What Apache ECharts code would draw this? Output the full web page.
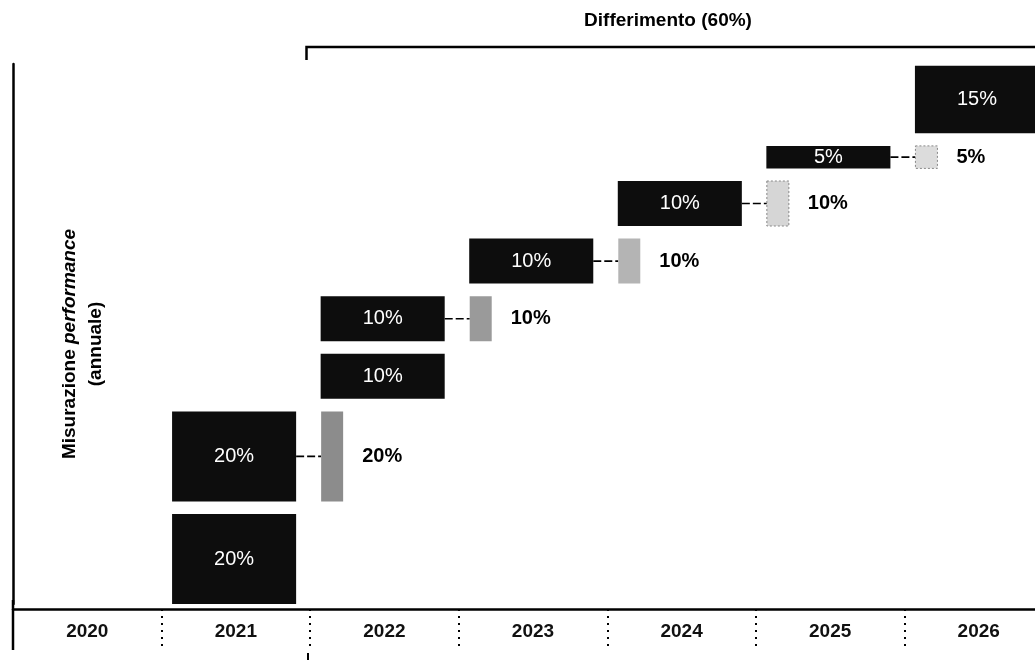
<!DOCTYPE html>
<html>
<head>
<meta charset="utf-8">
<script src="https://cdn.jsdelivr.net/npm/echarts@6/dist/echarts.min.js"></script>
<style>
  html, body { margin: 0; padding: 0; background: #fff; }
  #chart { width: 1035px; height: 660px; }
</style>
</head>
<body>
<div id="chart"></div>
<script>
// ---- data ----
const years = ['2020', '2021', '2022', '2023', '2024', '2025', '2026'];
const trancheYear = ['2021', '2021', '2022', '2022', '2023', '2024', '2025', '2026'];
const trancheShare = [20, 20, 10, 10, 10, 10, 5, 15];        // % of variable pay
const trancheRetention = [0, 1, 0, 1, 1, 1, 1, 0];           // 1 = retained one more year
const deferralLabel = 'Differimento (60%)';
const yAxisTitleMain = 'Misurazione ';
const yAxisTitleItalic = 'performance';
const yAxisTitleSub = '(annuale)';

// ---- styles ----
const FONT = "'Liberation Sans', Arial, Helvetica, sans-serif";
const retentionFill = ['#8c8c8c', '#8c8c8c', '#9a9a9a', '#9a9a9a', '#b4b4b4', '#d6d6d6', '#dcdcdc', '#dcdcdc'];
const GAP = 2.8; // vertical gap between stacked tranches (axis units)

// build stacked positions
let acc = 0;
const seriesData = trancheShare.map((v, i) => {
  const start = acc;
  const end = start + v;
  acc = end + GAP;
  return [years.indexOf(trancheYear[i]), start, end, v, trancheRetention[i], i];
});

function renderItem(params, api) {
  const ci = api.value(0), y0 = api.value(1), y1 = api.value(2), v = api.value(3);
  const ret = api.value(4), idx = api.value(5);
  const top = api.coord([ci, y1]);
  const bot = api.coord([ci, y0]);
  const bw = api.size([1, 0])[0];
  const colLeft = top[0] - bw / 2;
  const barX = colLeft + 10.5;
  const barW = bw * 0.835;
  const h = bot[1] - top[1];
  const midY = top[1] + h / 2;
  const children = [
    { type: 'rect', shape: { x: barX, y: top[1], width: barW, height: h },
      style: { fill: '#0d0d0d' } },
    { type: 'text', x: barX + barW / 2, y: midY,
      style: { text: v + '%', fill: '#fff', font: '20px ' + FONT, align: 'center', verticalAlign: 'middle' } }
  ];
  if (ret) {
    const gx = colLeft + bw + 11;
    const gw = 22;
    const light = idx >= 5;
    children.push(
      { type: 'line', shape: { x1: barX + barW, y1: midY, x2: gx, y2: midY },
        style: { stroke: '#000', lineWidth: 1.6, lineDash: [8, 3] } },
      { type: 'rect', shape: { x: gx, y: top[1], width: gw, height: h },
        style: { fill: retentionFill[idx], stroke: light ? '#888' : null, lineWidth: 1, lineDash: [2, 2] } },
      { type: 'text', x: colLeft + bw + 52, y: midY,
        style: { text: v + '%', fill: '#000', font: 'bold 20px ' + FONT, align: 'left', verticalAlign: 'middle' } }
    );
  }
  return { type: 'group', children };
}

const chart = echarts.init(document.getElementById('chart'), null, { renderer: 'canvas' });
chart.setOption({
  animation: false,
  backgroundColor: '#fff',
  grid: { left: 13, top: 64, width: 1040, height: 540, containLabel: false, outerBoundsMode: 'none' },
  xAxis: {
    type: 'category',
    data: years,
    position: 'bottom',
    offset: 5,
    boundaryGap: true,
    axisLine: { show: true, onZero: false, lineStyle: { color: '#000', width: 2.5 } },
    axisTick: { show: true, inside: false, length: 38, interval: 0, alignWithLabel: false,
      lineStyle: { color: '#000', width: 2, type: [2, 5] } },
    axisLabel: { show: true, margin: 13, color: '#111', fontSize: 19, fontWeight: 'bold', fontFamily: FONT, interval: 0 },
    splitLine: { show: false }
  },
  yAxis: {
    type: 'value',
    min: 0,
    max: 120,
    axisLine: { show: true, lineStyle: { color: '#000', width: 2.5 } },
    axisTick: { show: false },
    axisLabel: { show: false },
    splitLine: { show: false }
  },
  series: [{
    type: 'custom',
    renderItem: renderItem,
    clip: false,
    encode: { x: 0, y: [1, 2] },
    data: seriesData
  }],
  graphic: [
    // left axis extension below baseline
    { type: 'line', shape: { x1: 13, y1: 600, x2: 13, y2: 650 }, style: { stroke: '#000', lineWidth: 2.5 } },
    // deferral bracket
    { type: 'polyline', shape: { points: [[306.5, 60], [306.5, 47], [1035, 47]] },
      style: { stroke: '#000', lineWidth: 2.5, fill: null } },
    { type: 'line', shape: { x1: 308, y1: 653, x2: 308, y2: 660 }, style: { stroke: '#000', lineWidth: 2 } },
    { type: 'text', x: 668, y: 21,
      style: { text: deferralLabel, font: 'bold 19px ' + FONT, fill: '#000', align: 'center', verticalAlign: 'middle' } },
    // y axis title
    { type: 'text', x: 83, y: 344, rotation: Math.PI / 2,
      style: {
        text: '{b|' + yAxisTitleMain + '}{i|' + yAxisTitleItalic + '}\n{b|' + yAxisTitleSub + '}',
        align: 'center', verticalAlign: 'middle', fill: '#000',
        rich: {
          b: { fontWeight: 'bold', fontSize: 19, fontFamily: FONT, lineHeight: 26, fill: '#000' },
          i: { fontWeight: 'bold', fontStyle: 'italic', fontSize: 19, fontFamily: FONT, lineHeight: 26, fill: '#000' }
        }
      } }
  ]
});
</script>
</body>
</html>
